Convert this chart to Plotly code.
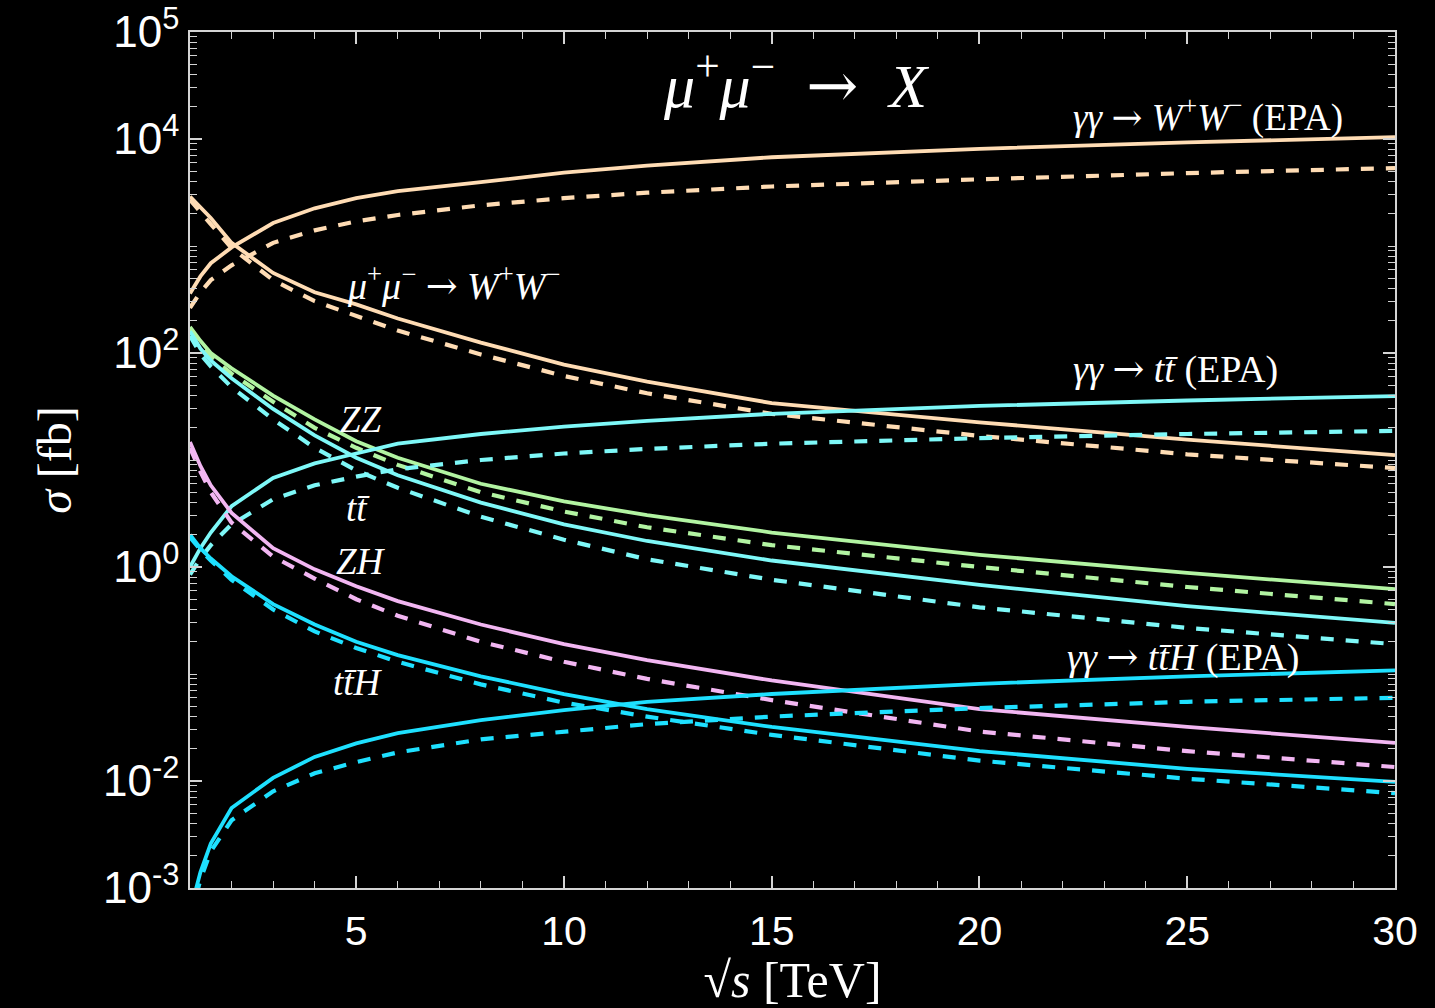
import plotly.graph_objects as go

# ---------------- data ----------------
sqrt_s = [1, 1.25, 1.5, 2, 3, 4, 5, 6, 8, 10, 12, 15, 20, 25, 30]

aa_WW_full = [360, 520, 690, 970, 1640, 2250, 2800, 3250, 3950, 4850, 5650, 6750, 8100, 9300, 10400]
aa_WW_dash = [264, 370, 480, 660, 1070, 1400, 1700, 1950, 2400, 2800, 3150, 3600, 4200, 4800, 5350]
mm_WW_full = [2900, 2300, 1830, 1070, 560, 370, 285, 210, 125, 78, 54, 34, 22.5, 15.5, 11.1]
mm_WW_dash = [2700, 2050, 1600, 960, 480, 305, 220, 162, 97, 61, 42, 27, 16.8, 11.3, 8.4]
ZZ_full = [175, 130, 100, 72, 40, 24, 15, 10.5, 6.0, 4.1, 3.05, 2.1, 1.3, 0.88, 0.62]
ZZ_dash = [165, 120, 92, 64, 35, 20, 13, 9.0, 5.0, 3.3, 2.35, 1.6, 1.0, 0.65, 0.45]
tt_full = [160, 110, 85, 58, 30, 17, 10.5, 7.2, 4.0, 2.5, 1.75, 1.15, 0.68, 0.43, 0.30]
tt_dash = [145, 98, 75, 48, 24, 13, 8.0, 5.5, 2.95, 1.8, 1.18, 0.76, 0.42, 0.27, 0.19]
aa_tt_full = [1.0, 1.5, 2.1, 3.7, 6.8, 9.3, 11.5, 14.2, 17.5, 20.5, 23.2, 27, 32, 36, 39.6]
aa_tt_dash = [0.85, 1.2, 1.6, 2.5, 4.3, 5.8, 7.0, 8.2, 10.0, 11.5, 12.7, 14.2, 16.0, 17.5, 18.7]
ZH_full = [14.7, 8.8, 5.8, 3.2, 1.5, 0.95, 0.66, 0.48, 0.29, 0.19, 0.135, 0.087, 0.047, 0.032, 0.0227]
ZH_dash = [13, 7.8, 5.0, 2.6, 1.25, 0.78, 0.5, 0.35, 0.2, 0.13, 0.09, 0.057, 0.029, 0.019, 0.0135]
ttH_full = [2.0, 1.5, 1.2, 0.82, 0.45, 0.29, 0.2, 0.15, 0.095, 0.065, 0.047, 0.032, 0.019, 0.013, 0.0098]
ttH_dash = [1.9, 1.45, 1.15, 0.76, 0.40, 0.25, 0.175, 0.13, 0.08, 0.054, 0.040, 0.027, 0.0155, 0.0105, 0.0077]
aa_ttH_full = [0.0006, 0.0014, 0.0026, 0.0056, 0.0107, 0.0168, 0.0225, 0.028, 0.037, 0.046, 0.055, 0.065, 0.081, 0.095, 0.108]
aa_ttH_dash = [0.0005, 0.0012, 0.0022, 0.0043, 0.0080, 0.0118, 0.015, 0.0185, 0.0245, 0.029, 0.034, 0.040, 0.048, 0.055, 0.060]

x_tick_vals = [5, 10, 15, 20, 25, 30]
y_tick_vals = [1e-3, 1e-2, 1, 1e2, 1e4, 1e5]
y_tick_text = ["10<sup>-3</sup>", "10<sup>-2</sup>", "10<sup>0</sup>",
               "10<sup>2</sup>", "10<sup>4</sup>", "10<sup>5</sup>"]

# ---------------- styles ----------------
PEACH = "#FFDCB4"
GREEN = "#B2F4A2"
LCYAN = "#7EF8F8"
PINK = "#F2B6F2"
DCYAN = "#1EE0FF"
DASH = "13px,12px"

series = [
    (aa_WW_full, PEACH, "solid"), (aa_WW_dash, PEACH, DASH),
    (mm_WW_full, PEACH, "solid"), (mm_WW_dash, PEACH, DASH),
    (ZZ_full, GREEN, "solid"), (ZZ_dash, GREEN, DASH),
    (tt_full, LCYAN, "solid"), (tt_dash, LCYAN, DASH),
    (aa_tt_full, LCYAN, "solid"), (aa_tt_dash, LCYAN, DASH),
    (ZH_full, PINK, "solid"), (ZH_dash, PINK, DASH),
    (ttH_full, DCYAN, "solid"), (ttH_dash, DCYAN, DASH),
    (aa_ttH_full, DCYAN, "solid"), (aa_ttH_dash, DCYAN, DASH),
]

fig = go.Figure()
for vals, col, dash in series:
    fig.add_trace(go.Scatter(
        x=sqrt_s, y=vals, mode="lines",
        line=dict(color=col, width=3.8 if dash == "solid" else 4.2, dash=dash),
        hoverinfo="skip", showlegend=False))

AXC = "#d4d4d4"
SANS = "Liberation Sans, Arial, sans-serif"
SERIF = "Liberation Serif, DejaVu Serif, serif"

y_minor = [k * 10.0 ** n for n in range(-3, 5) for k in range(1, 10)
           if not (k == 1 and n in (-3, -2, 0, 2, 4))]

fig.update_xaxes(
    type="linear", range=[1, 30], automargin=False,
    tickmode="array", tickvals=x_tick_vals,
    ticks="inside", ticklen=12, tickwidth=1.5, tickcolor=AXC,
    minor=dict(ticks="inside", dtick=1, tick0=0, ticklen=7, tickwidth=1.2, tickcolor=AXC, showgrid=False),
    showline=True, linecolor=AXC, linewidth=1.5, mirror="ticks",
    showgrid=False, zeroline=False, ticklabeloverflow="allow",
    tickfont=dict(family=SANS, size=41, color="white"), ticklabelstandoff=6,
    title=dict(text="√<i>s</i> [TeV]", font=dict(family=SERIF, size=50, color="white"), standoff=16),
)
fig.update_yaxes(
    type="log", range=[-3, 5], automargin=False,
    tickmode="array", tickvals=y_tick_vals, ticktext=y_tick_text,
    ticks="inside", ticklen=12, tickwidth=1.5, tickcolor=AXC,
    minor=dict(ticks="inside", tickmode="array", tickvals=y_minor, ticklen=7, tickwidth=1.2,
               tickcolor=AXC, showgrid=False),
    showline=True, linecolor=AXC, linewidth=1.5, mirror="ticks",
    showgrid=False, zeroline=False, ticklabeloverflow="allow",
    tickfont=dict(family=SANS, size=44, color="white"),
    title=dict(text="<i>σ</i> [fb]", font=dict(family=SERIF, size=48, color="white"), standoff=16),
)

# ---------------- labels ----------------
ARW = "<span style='font-family:DejaVu Serif'>→</span>"
labels = [
    ("<i>μ</i><sup>+</sup><i>μ</i><sup>−</sup>  " + ARW + "  <i>X</i>", 15.58, 4.53, 62),
    ("<i>γγ</i> " + ARW + " <i>W</i><sup>+</sup><i>W</i><sup>−</sup> (EPA)", 25.5, 4.224, 37),
    ("<i>μ</i><sup>+</sup><i>μ</i><sup>−</sup> " + ARW + " <i>W</i><sup>+</sup><i>W</i><sup>−</sup>", 7.33, 2.654, 38),
    ("<i>γγ</i> " + ARW + " <i>tt̄</i> (EPA)", 24.71, 1.85, 38),
    ("<i>ZZ</i>", 5.12, 1.374, 37),
    ("<i>tt̄</i>", 5.05, 0.551, 37),
    ("<i>ZH</i>", 5.12, 0.047, 37),
    ("<i>γγ</i> " + ARW + " <i>tt̄H</i> (EPA)", 24.9, -0.841, 38),
    ("<i>tt̄H</i>", 5.05, -1.084, 37),
]
for txt, lx, ly, fs in labels:
    fig.add_annotation(x=lx, y=ly, xref="x", yref="y", text=txt, showarrow=False,
                       font=dict(family=SERIF, size=fs, color="white"),
                       xanchor="center", yanchor="middle")

fig.update_layout(
    width=1435, height=1008,
    margin=dict(l=190, r=40, t=32, b=120),
    paper_bgcolor="black", plot_bgcolor="black",
    showlegend=False,
)

fig.write_html("out.html", config={"displayModeBar": False},
               post_script="document.body.style.margin='0';document.body.style.overflow='hidden';")
